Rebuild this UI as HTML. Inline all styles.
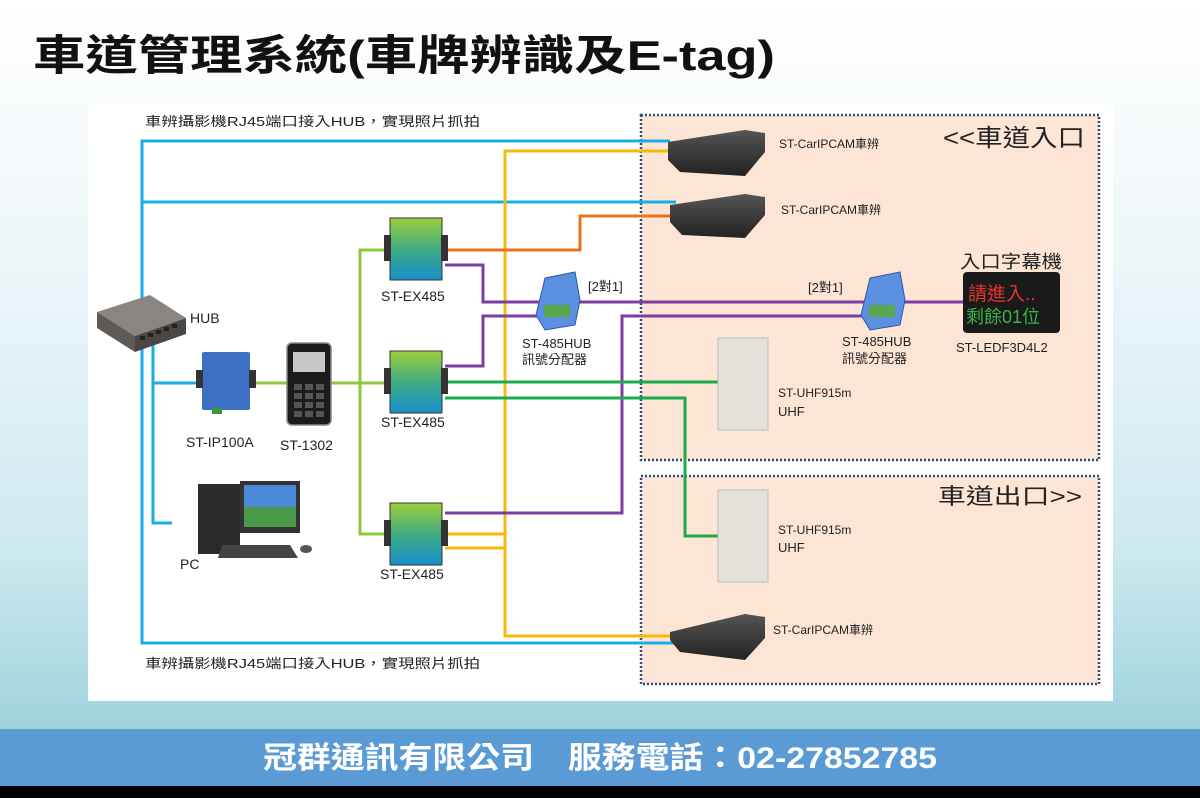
<!DOCTYPE html>
<html><head><meta charset="utf-8"><style>
html,body{margin:0;padding:0;width:1200px;height:798px;overflow:hidden;background:#fff}
svg{display:block}
text{font-family:"Liberation Sans","Noto Sans CJK TC",sans-serif}
</style></head><body>
<svg width="1200" height="798" viewBox="0 0 1200 798" xmlns="http://www.w3.org/2000/svg">
<defs>
<linearGradient id="bg" x1="0" y1="0" x2="0" y2="1">
<stop offset="0" stop-color="#ffffff"/><stop offset="0.35" stop-color="#eef6f9"/><stop offset="0.75" stop-color="#cde9ef"/><stop offset="1" stop-color="#9fd3dc"/>
</linearGradient>
<linearGradient id="ex" x1="0" y1="0" x2="0" y2="1">
<stop offset="0" stop-color="#9ccf3a"/><stop offset="0.55" stop-color="#3aa88a"/><stop offset="1" stop-color="#1a8fc9"/>
</linearGradient>
<linearGradient id="cam" x1="0" y1="0" x2="0" y2="1">
<stop offset="0" stop-color="#555"/><stop offset="1" stop-color="#222"/>
</linearGradient>
</defs>
<rect x="0" y="0" width="1200" height="730" fill="url(#bg)"/>
<text x="33" y="70" font-size="42" font-weight="bold" fill="#111" textLength="742" lengthAdjust="spacingAndGlyphs">車道管理系統(車牌辨識及E-tag)</text>
<rect x="88" y="104" width="1025" height="597" fill="#fff"/>
<rect x="641" y="115" width="458" height="345" fill="#fde5d6" stroke="#2f4c80" stroke-width="2.5" stroke-dasharray="2 2"/>
<rect x="641" y="476" width="458" height="208" fill="#fde5d6" stroke="#2f4c80" stroke-width="2.5" stroke-dasharray="2 2"/>
<g fill="none" stroke-width="3">
<path d="M670 141 H142 V643 H682" stroke="#17ade6"/>
<path d="M142 202 H676" stroke="#17ade6"/>
<path d="M153 345 V523 H172" stroke="#17ade6"/>
<path d="M153 383 H200" stroke="#17ade6"/>
<path d="M670 151 H505 V636 H680" stroke="#f5b80c"/>
<path d="M445 534 H505" stroke="#f5b80c"/>
<path d="M445 548 H505" stroke="#f5b80c"/>
<path d="M445 250 H580 V216 H672" stroke="#e8731a"/>
<path d="M445 265 H483 V302 H965" stroke="#7d3ca3"/>
<path d="M445 366 H483 V316 H540" stroke="#7d3ca3"/>
<path d="M865 316 H622 V513 H445" stroke="#7d3ca3"/>
<path d="M250 383 H290 M330 383 H385 M385 250 H360 V534 H385" stroke="#8cc840"/>
<path d="M445 382 H718" stroke="#1aab4c"/>
<path d="M445 398 H685 V536 H718" stroke="#1aab4c"/>
</g>
<g>
<polygon points="97,312 150,295 186,318 135,336" fill="#8a8580"/>
<polygon points="97,312 135,336 135,352 97,328" fill="#5e5a56"/>
<polygon points="135,336 186,318 186,334 135,352" fill="#4a4744"/>
<g fill="#222"><rect x="140" y="336" width="5" height="4"/><rect x="148" y="333" width="5" height="4"/><rect x="156" y="330" width="5" height="4"/><rect x="164" y="327" width="5" height="4"/><rect x="172" y="324" width="5" height="4"/></g>
</g>
<rect x="202" y="352" width="48" height="58" fill="#3d6fc2" rx="2"/>
<rect x="196" y="370" width="7" height="18" fill="#333"/><rect x="249" y="370" width="7" height="18" fill="#333"/>
<rect x="212" y="408" width="10" height="6" fill="#3a9a3a"/>
<rect x="287" y="343" width="44" height="82" rx="5" fill="#1c1c1c" stroke="#888" stroke-width="1.5"/>
<rect x="293" y="352" width="32" height="20" fill="#c8c8c8"/>
<g fill="#555"><rect x="294" y="384" width="8" height="6"/><rect x="305" y="384" width="8" height="6"/><rect x="316" y="384" width="8" height="6"/><rect x="294" y="393" width="8" height="6"/><rect x="305" y="393" width="8" height="6"/><rect x="316" y="393" width="8" height="6"/><rect x="294" y="402" width="8" height="6"/><rect x="305" y="402" width="8" height="6"/><rect x="316" y="402" width="8" height="6"/><rect x="294" y="411" width="8" height="6"/><rect x="305" y="411" width="8" height="6"/><rect x="316" y="411" width="8" height="6"/></g>
<g>
<rect x="390" y="218" width="52" height="62" fill="url(#ex)" stroke="#333"/><rect x="384" y="235" width="7" height="26" fill="#333"/><rect x="441" y="235" width="7" height="26" fill="#333"/>
<rect x="390" y="351" width="52" height="62" fill="url(#ex)" stroke="#333"/><rect x="384" y="368" width="7" height="26" fill="#333"/><rect x="441" y="368" width="7" height="26" fill="#333"/>
<rect x="390" y="503" width="52" height="62" fill="url(#ex)" stroke="#333"/><rect x="384" y="520" width="7" height="26" fill="#333"/><rect x="441" y="520" width="7" height="26" fill="#333"/>
</g>
<g>
<polygon points="545,278 575,272 580,300 575,325 545,330 536,315" fill="#5b8fe0" stroke="#2d58a8"/>
<rect x="544" y="305" width="26" height="12" fill="#5aa64a"/>
<polygon points="870,278 900,272 905,300 900,325 870,330 861,315" fill="#5b8fe0" stroke="#2d58a8"/>
<rect x="869" y="305" width="26" height="12" fill="#5aa64a"/>
</g>
<rect x="198" y="484" width="42" height="70" fill="#2a2a2a"/>
<rect x="240" y="481" width="60" height="52" fill="#333"/>
<rect x="244" y="485" width="52" height="42" fill="#4a9a4a"/><rect x="244" y="485" width="52" height="22" fill="#4a8ad8"/>
<polygon points="222,545 290,545 298,558 218,558" fill="#444"/>
<ellipse cx="306" cy="549" rx="6" ry="4" fill="#555"/>
<g>
<polygon points="668,142 745,130 765,133 765,152 745,176 680,172 668,160" fill="url(#cam)"/>
<polygon points="670,205 745,194 765,197 765,215 745,238 682,235 670,222" fill="url(#cam)"/>
<polygon points="670,632 745,614 765,617 765,638 745,660 680,652 670,640" fill="url(#cam)"/>
</g>
<rect x="718" y="338" width="50" height="92" fill="#e3e1da" stroke="#bbb"/>
<rect x="718" y="490" width="50" height="92" fill="#e3e1da" stroke="#bbb"/>
<rect x="963" y="272" width="97" height="61" rx="4" fill="#1a1a1a"/>
<text x="968" y="300" font-size="19" fill="#e8332a">請進入..</text>
<text x="966" y="323" font-size="18" fill="#37b54a">剩餘01位</text>
<g fill="#222" font-size="13">
<text x="145" y="126" textLength="335" lengthAdjust="spacingAndGlyphs">車辨攝影機RJ45端口接入HUB，實現照片抓拍</text>
<text x="145" y="668" textLength="335" lengthAdjust="spacingAndGlyphs">車辨攝影機RJ45端口接入HUB，實現照片抓拍</text>
<text x="779" y="148" font-size="12">ST-CarIPCAM車辨</text>
<text x="781" y="214" font-size="12">ST-CarIPCAM車辨</text>
<text x="773" y="634" font-size="12">ST-CarIPCAM車辨</text>
<text x="190" y="323" font-size="14">HUB</text>
<text x="186" y="447" font-size="14">ST-IP100A</text>
<text x="280" y="450" font-size="14">ST-1302</text>
<text x="381" y="301" font-size="14">ST-EX485</text>
<text x="381" y="427" font-size="14">ST-EX485</text>
<text x="380" y="579" font-size="14">ST-EX485</text>
<text x="588" y="291">[2對1]</text>
<text x="808" y="292">[2對1]</text>
<text x="522" y="348">ST-485HUB</text>
<text x="522" y="364">訊號分配器</text>
<text x="842" y="346">ST-485HUB</text>
<text x="842" y="363">訊號分配器</text>
<text x="956" y="352">ST-LEDF3D4L2</text>
<text x="960" y="268" font-size="18" textLength="102" lengthAdjust="spacingAndGlyphs">入口字幕機</text>
<text x="778" y="397" font-size="12">ST-UHF915m</text>
<text x="778" y="416">UHF</text>
<text x="778" y="534" font-size="12">ST-UHF915m</text>
<text x="778" y="552">UHF</text>
<text x="180" y="569" font-size="14">PC</text>
<text x="943" y="146" font-size="24" textLength="142" lengthAdjust="spacingAndGlyphs">&lt;&lt;車道入口</text>
<text x="938" y="504" font-size="22" textLength="144" lengthAdjust="spacingAndGlyphs">車道出口&gt;&gt;</text>
</g>
<rect x="0" y="729" width="1200" height="57" fill="#5b9bd5"/>
<rect x="0" y="786" width="1200" height="12" fill="#000"/>
<text x="263" y="768" font-size="30" font-weight="bold" fill="#fff" textLength="674" lengthAdjust="spacingAndGlyphs">冠群通訊有限公司　服務電話：02-27852785</text>
</svg>
</body></html>
